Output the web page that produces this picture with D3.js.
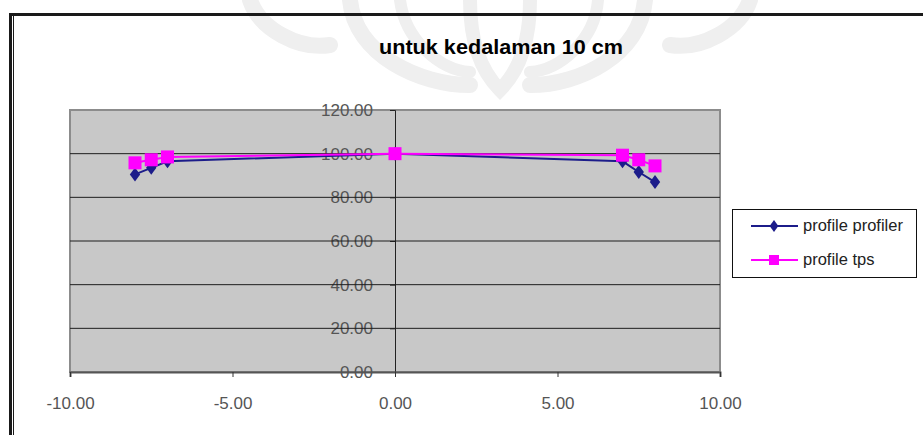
<!DOCTYPE html>
<html>
<head>
<meta charset="utf-8">
<script src="https://cdn.jsdelivr.net/npm/d3@7/dist/d3.min.js"></script>
<style>
  html, body { margin: 0; padding: 0; background: #ffffff; }
  svg { display: block; }
  text { font-family: "Liberation Sans", Arial, sans-serif; }
</style>
</head>
<body>
<svg id="chart" width="923" height="435"></svg>
<script>
// Lateral position (cm) and relative dose (%) at 10 cm depth
const positions = [-8, -7.5, -7, 0, 7, 7.5, 8];
const profilerValues = [90.5, 93.5, 96.5, 100, 96.5, 91.6, 87];
const tpsValues = [95.8, 97.2, 98.5, 100, 99.3, 97.2, 94.4];
const seriesNames = ["profile profiler", "profile tps"];
const xTicks = [-10, -5, 0, 5, 10];
const yTicks = [0, 20, 40, 60, 80, 100, 120];
const chartTitle = "untuk kedalaman 10 cm";

const svg = d3.select("#chart");
const fmt = d => d3.format(".2f")(d).replace("\u2212", "-");

// faint logo behind the chart
const wm = svg.append("g").attr("fill", "none").attr("stroke", "#efefef").attr("stroke-linecap", "round");
wm.append("path").attr("d", "M350,0 C355,55 420,85 470,85 M530,85 C580,85 640,55 645,0").attr("stroke-width", 16);
wm.append("path").attr("d", "M400,0 C405,40 440,70 470,72 M530,72 C560,70 595,40 598,0").attr("stroke-width", 12);
wm.append("path").attr("d", "M250,0 C260,30 300,50 330,45").attr("stroke-width", 16);
wm.append("path").attr("d", "M750,0 C740,30 700,50 670,45").attr("stroke-width", 16);
wm.append("path").attr("d", "M470,0 C470,40 480,70 500,90 C520,70 530,40 530,0").attr("stroke-width", 14);

// outer frame (top and left edges)
svg.append("rect").attr("x", 9).attr("y", 13).attr("width", 914).attr("height", 3).attr("fill", "#1a1a1a");
svg.append("rect").attr("x", 9).attr("y", 13).attr("width", 3).attr("height", 422).attr("fill", "#1a1a1a");
svg.append("line").attr("x1", 13.5).attr("x2", 13.5).attr("y1", 16).attr("y2", 435)
  .attr("stroke", "#1a1a1a").attr("stroke-width", 1);

// title
svg.append("text").attr("x", 501).attr("y", 54).attr("text-anchor", "middle")
  .attr("font-size", 20).attr("font-weight", "bold").attr("fill", "#000")
  .attr("textLength", 244).attr("lengthAdjust", "spacingAndGlyphs")
  .text(chartTitle);

const plot = { left: 70, right: 720, top: 110, bottom: 372 };
const x = d3.scaleLinear().domain([-10, 10]).range([plot.left, plot.right]);
const y = d3.scaleLinear().domain([0, 120]).range([plot.bottom, plot.top]);

// plot area
svg.append("rect").attr("x", plot.left).attr("y", plot.top)
  .attr("width", plot.right - plot.left).attr("height", plot.bottom - plot.top)
  .attr("fill", "#c8c8c8").attr("stroke", "#8c8c8c").attr("stroke-width", 2);

// y axis sits at x = 0, labels drawn first so gridlines pass over them
const yAxis = d3.axisLeft(y).tickValues(yTicks).tickFormat(fmt)
  .tickSize(5).tickPadding(17);
const yG = svg.append("g").attr("transform", `translate(${x(0)},0)`).call(yAxis);
yG.select(".domain").attr("stroke", "#222").attr("stroke-width", 1);
yG.selectAll(".tick line").attr("stroke", "#222");
yG.selectAll(".tick text").attr("font-size", 17).attr("fill", "#555")
  .attr("font-family", "Liberation Sans, Arial, sans-serif");

// horizontal gridlines
svg.append("g").selectAll("line").data(yTicks.filter(d => d > 0 && d < 120)).join("line")
  .attr("x1", plot.left).attr("x2", plot.right)
  .attr("y1", d => y(d)).attr("y2", d => y(d))
  .attr("stroke", "#1e1e1e").attr("stroke-width", 1);

// x axis sits at y = 0
const xAxis = d3.axisBottom(x).tickValues(xTicks).tickFormat(fmt)
  .tickSize(5).tickPadding(20);
const xG = svg.append("g").attr("transform", `translate(0,${y(0)})`).call(xAxis);
xG.select(".domain").attr("stroke", "#555").attr("stroke-width", 2);
xG.selectAll(".tick line").attr("stroke", "#333");
xG.selectAll(".tick text").attr("font-size", 17).attr("fill", "#555")
  .attr("font-family", "Liberation Sans, Arial, sans-serif");

const profiler = positions.map((p, i) => [p, profilerValues[i]]);
const tps = positions.map((p, i) => [p, tpsValues[i]]);
const line = d3.line().x(d => x(d[0])).y(d => y(d[1]));

const navy = "#1c1c8a";
const magenta = "#ff00ff";

svg.append("path").datum(profiler).attr("d", line)
  .attr("fill", "none").attr("stroke", navy).attr("stroke-width", 2);
svg.append("g").selectAll("path").data(profiler).join("path")
  .attr("d", d3.symbol(d3.symbolDiamond, 70))
  .attr("transform", d => `translate(${x(d[0])},${y(d[1])}) scale(1.15,0.9)`)
  .attr("fill", navy);

svg.append("path").datum(tps).attr("d", line)
  .attr("fill", "none").attr("stroke", magenta).attr("stroke-width", 2);
svg.append("g").selectAll("rect").data(tps).join("rect")
  .attr("x", d => x(d[0]) - 6.5).attr("y", d => y(d[1]) - 6.5)
  .attr("width", 13).attr("height", 13).attr("fill", magenta);

// legend
const lg = svg.append("g");
lg.append("rect").attr("x", 732.5).attr("y", 209.5).attr("width", 184).attr("height", 68)
  .attr("fill", "#fff").attr("stroke", "#111").attr("stroke-width", 1);
const colors = [navy, magenta];
seriesNames.forEach((name, i) => {
  const yy = 226 + i * 34;
  lg.append("line").attr("x1", 751).attr("x2", 798).attr("y1", yy).attr("y2", yy)
    .attr("stroke", colors[i]).attr("stroke-width", 2);
  if (i === 0) {
    lg.append("path").attr("d", d3.symbol(d3.symbolDiamond, 50))
      .attr("transform", `translate(774,${yy}) scale(1.15,0.9)`).attr("fill", navy);
  } else {
    lg.append("rect").attr("x", 769).attr("y", yy - 5).attr("width", 10).attr("height", 10)
      .attr("fill", magenta);
  }
  lg.append("text").attr("x", 803).attr("y", yy + 5).attr("font-size", 16.5).attr("fill", "#222")
    .text(name);
});
</script>
</body>
</html>
